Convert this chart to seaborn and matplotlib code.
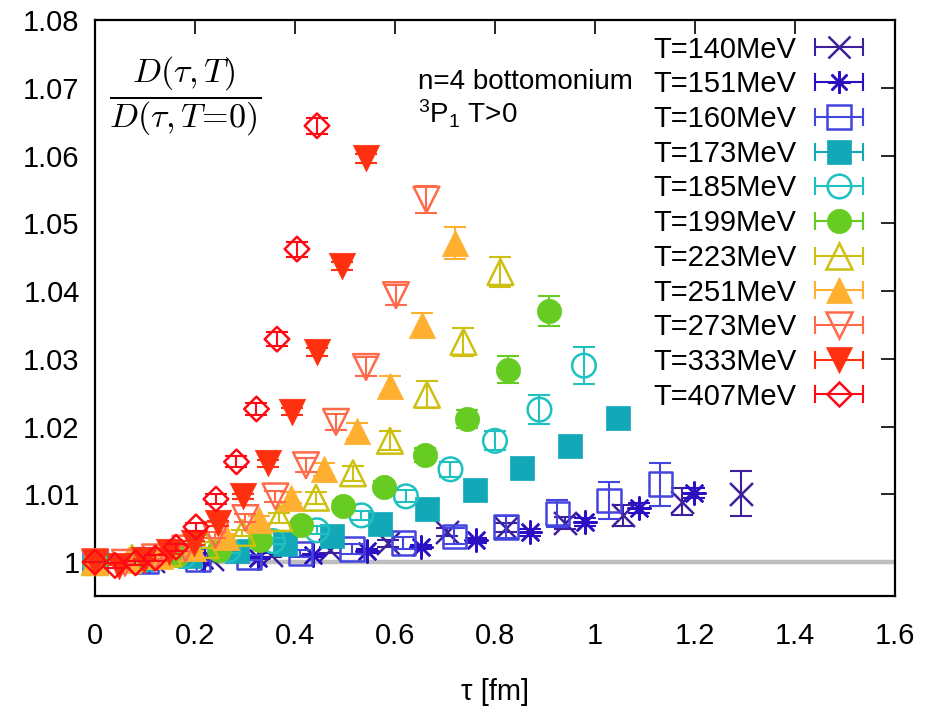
import numpy as np
import pandas as pd
import matplotlib
matplotlib.use("Agg")
import matplotlib.pyplot as plt
import seaborn as sns
from matplotlib.lines import Line2D
from matplotlib.collections import LineCollection
from matplotlib.container import ErrorbarContainer
from matplotlib.legend_handler import HandlerErrorbar
from matplotlib.ticker import FuncFormatter

# ---------------- data ----------------
labels = ["T=140MeV", "T=151MeV", "T=160MeV", "T=173MeV", "T=185MeV", "T=199MeV",
          "T=223MeV", "T=251MeV", "T=273MeV", "T=333MeV", "T=407MeV"]

tau_140 = [0, 0.117, 0.235, 0.352, 0.470, 0.587, 0.705, 0.822, 0.940, 1.057, 1.175, 1.292]
tau_151 = [0, 0.109, 0.218, 0.327, 0.436, 0.545, 0.653, 0.762, 0.871, 0.980, 1.089, 1.198]
tau_160 = [0, 0.103, 0.206, 0.308, 0.411, 0.514, 0.617, 0.719, 0.822, 0.925, 1.028, 1.131]
tau_173 = [0, 0.095, 0.190, 0.285, 0.380, 0.475, 0.570, 0.665, 0.760, 0.855, 0.951, 1.046]
tau_185 = [0, 0.089, 0.178, 0.267, 0.356, 0.444, 0.533, 0.622, 0.711, 0.800, 0.889, 0.978]
tau_199 = [0, 0.083, 0.165, 0.248, 0.331, 0.413, 0.496, 0.578, 0.661, 0.744, 0.826, 0.909]
tau_223 = [0, 0.074, 0.147, 0.221, 0.295, 0.369, 0.442, 0.516, 0.590, 0.664, 0.737, 0.811]
tau_251 = [0, 0.066, 0.131, 0.197, 0.262, 0.328, 0.393, 0.459, 0.524, 0.590, 0.655, 0.721]
tau_273 = [0, 0.060, 0.120, 0.181, 0.241, 0.301, 0.361, 0.422, 0.482, 0.542, 0.602, 0.663]
tau_333 = [0, 0.049, 0.099, 0.148, 0.198, 0.247, 0.296, 0.346, 0.395, 0.444, 0.494, 0.543]
tau_407 = [0, 0.040, 0.081, 0.121, 0.162, 0.202, 0.242, 0.283, 0.323, 0.364, 0.404, 0.444]

r_140 = [1.0, 1.0002, 1.0005, 1.0010, 1.0018, 1.0028, 1.0044, 1.0051, 1.0058, 1.0069, 1.0089, 1.0101]
r_151 = [1.0, 1.0001, 1.0003, 1.0006, 1.0010, 1.0016, 1.0022, 1.0032, 1.0044, 1.0059, 1.0080, 1.0102]
r_160 = [1.0, 1.0001, 1.0004, 1.0007, 1.0013, 1.0019, 1.0028, 1.0038, 1.0052, 1.0072, 1.0091, 1.0115]
r_173 = [1.0, 1.0004, 1.0009, 1.0016, 1.0027, 1.0038, 1.0056, 1.0078, 1.0106, 1.0139, 1.0171, 1.0213]
r_185 = [1.0, 1.0003, 1.0009, 1.0018, 1.0031, 1.0047, 1.0069, 1.0097, 1.0137, 1.0179, 1.0225, 1.0290]
r_199 = [1.0, 1.0003, 1.0010, 1.0018, 1.0032, 1.0055, 1.0083, 1.0111, 1.0158, 1.0211, 1.0284, 1.0370]
r_223 = [1.0, 1.0006, 1.0013, 1.0025, 1.0043, 1.0065, 1.0095, 1.0131, 1.0179, 1.0247, 1.0325, 1.0428]
r_251 = [1.0, 1.0003, 1.0009, 1.0021, 1.0037, 1.0062, 1.0095, 1.0137, 1.0193, 1.0260, 1.0350, 1.0471]
r_273 = [1.0, 0.9999, 1.0007, 1.0020, 1.0040, 1.0065, 1.0097, 1.0143, 1.0207, 1.0288, 1.0394, 1.0535]
r_333 = [1.0, 0.9994, 1.0003, 1.0015, 1.0028, 1.0057, 1.0097, 1.0146, 1.0222, 1.0310, 1.0437, 1.0596]
r_407 = [1.0, 0.9995, 0.9999, 1.0006, 1.0022, 1.0052, 1.0093, 1.0148, 1.0226, 1.0329, 1.0462, 1.0644]

e_140 = [0, 0.0002, 0.0002, 0.0003, 0.0004, 0.0005, 0.0006, 0.0007, 0.0009, 0.0016, 0.0020, 0.0033]
e_151 = [0, 0.0001, 0.0001, 0.0002, 0.0002, 0.0003, 0.0003, 0.0004, 0.0005, 0.0006, 0.0007, 0.0008]
e_160 = [0, 0.0002, 0.0003, 0.0004, 0.0005, 0.0007, 0.0009, 0.0012, 0.0016, 0.0020, 0.0027, 0.0032]
e_173 = [0, 0.0001, 0.0001, 0.0002, 0.0002, 0.0003, 0.0003, 0.0004, 0.0005, 0.0006, 0.0007, 0.0008]
e_185 = [0, 0.0002, 0.0003, 0.0004, 0.0005, 0.0006, 0.0007, 0.0009, 0.0011, 0.0014, 0.0021, 0.0027]
e_199 = [0, 0.0002, 0.0003, 0.0004, 0.0005, 0.0006, 0.0007, 0.0008, 0.0010, 0.0013, 0.0020, 0.0022]
e_223 = [0, 0.0002, 0.0003, 0.0004, 0.0005, 0.0007, 0.0009, 0.0011, 0.0014, 0.0020, 0.0021, 0.0022]
e_251 = [0, 0.0002, 0.0003, 0.0004, 0.0005, 0.0006, 0.0008, 0.0010, 0.0012, 0.0014, 0.0018, 0.0023]
e_273 = [0, 0.0002, 0.0003, 0.0004, 0.0005, 0.0006, 0.0008, 0.0010, 0.0012, 0.0014, 0.0015, 0.0020]
e_333 = [0, 0.0002, 0.0002, 0.0003, 0.0003, 0.0004, 0.0004, 0.0005, 0.0005, 0.0006, 0.0006, 0.0007]
e_407 = [0, 0.0003, 0.0003, 0.0004, 0.0005, 0.0006, 0.0007, 0.0008, 0.0009, 0.0010, 0.0011, 0.0012]

taus = [tau_140, tau_151, tau_160, tau_173, tau_185, tau_199, tau_223, tau_251, tau_273, tau_333, tau_407]
ratios = [r_140, r_151, r_160, r_173, r_185, r_199, r_223, r_251, r_273, r_333, r_407]
errors = [e_140, e_151, e_160, e_173, e_185, e_199, e_223, e_251, e_273, e_333, e_407]

xticks = [0, 0.2, 0.4, 0.6, 0.8, 1.0, 1.2, 1.4, 1.6]
yticks = [1.0, 1.01, 1.02, 1.03, 1.04, 1.05, 1.06, 1.07, 1.08]

# ---------------- styles ----------------
colors = ["#3e1f9c", "#2a10c2", "#4444de", "#12a8b8", "#1ec0c0", "#66cc22",
          "#cdc010", "#ffb030", "#ff6a4a", "#ff3010", "#ff0a14"]
markers = ["x", (8, 2, 0), "s", "s", "o", "o", "^", "^", "v", "v", "D"]
hollow = [False, False, True, False, True, False, True, False, True, False, True]
msizes = [16.5, 16, 17, 17.5, 17, 17.5, 18.5, 19, 18.5, 19, 12.5]

sns.set_theme(style="white")
plt.rcParams['font.family'] = ['Liberation Sans', 'DejaVu Sans']
plt.rcParams['mathtext.fontset'] = 'custom'
plt.rcParams['mathtext.rm'] = 'Liberation Sans'
plt.rcParams['mathtext.it'] = 'Liberation Sans:italic'
plt.rcParams['mathtext.bf'] = 'Liberation Sans:bold'

FS = 21
fig = plt.figure(figsize=(9.33, 7.13), dpi=100)
ax = fig.add_axes([0.1018, 0.1641, 0.8574, 0.8078])

ax.axhline(1.0, color="#bebebe", lw=3.2, zorder=1)

proxies = []
for i in range(len(labels)):
    c = colors[i]
    z = 2 + i * 0.1
    ax.errorbar(taus[i], ratios[i], yerr=errors[i], fmt="none", ecolor=c,
                elinewidth=1.5, capsize=8, capthick=1.5, zorder=z, clip_on=False)
    m = markers[i]
    s = msizes[i] ** 2
    line_art = (m == "x") or isinstance(m, tuple)
    if line_art:
        sns.scatterplot(x=taus[i], y=ratios[i], marker=m, s=s, color=c,
                        linewidth=1.8, ax=ax, zorder=z + 0.05, clip_on=False, legend=False)
    elif hollow[i]:
        sns.scatterplot(x=taus[i], y=ratios[i], marker=m, s=s, color=c,
                        facecolor="none", edgecolor=c, linewidth=1.8, ax=ax,
                        zorder=z + 0.05, clip_on=False, legend=False)
    else:
        sns.scatterplot(x=taus[i], y=ratios[i], marker=m, s=s, color=c,
                        edgecolor=c, linewidth=0.5, ax=ax,
                        zorder=z + 0.05, clip_on=False, legend=False)
    # legend proxy (gnuplot-style sample: |--marker--|)
    line = Line2D([], [], linestyle="None", marker=m, markersize=msizes[i], color=c,
                  markerfacecolor=("none" if hollow[i] else c), markeredgecolor=c,
                  markeredgewidth=(1.8 if (hollow[i] or line_art) else 0.5))
    cap = Line2D([], [], linestyle="None", marker="|", markersize=13, markeredgewidth=1.5, color=c)
    lc = LineCollection([], colors=[c], linewidths=1.5)
    cont = ErrorbarContainer((line, (cap, cap), (lc,)), has_xerr=True, has_yerr=False,
                             label=labels[i])
    proxies.append(cont)

ax.set_xlim(0, 1.6)
ax.set_ylim(0.995, 1.08)
ax.set_xticks(xticks)
ax.set_yticks(yticks)
fmt = FuncFormatter(lambda v, p: "%g" % round(v, 4))
ax.xaxis.set_major_formatter(fmt)
ax.yaxis.set_major_formatter(fmt)
ax.tick_params(axis="both", which="major", direction="in", length=10, width=1.2,
               labelsize=FS, top=True, right=True, color="black", labelcolor="black")
ax.tick_params(axis="x", pad=19)
ax.tick_params(axis="y", pad=11)
for sp in ax.spines.values():
    sp.set_color("black")
    sp.set_linewidth(1.6)

ax.set_xlabel("τ [fm]", fontsize=FS, labelpad=20, color="black")
ax.set_ylabel("")

ax.text(0.1122, 0.867, r"$\dfrac{D(\tau,T)}{D(\tau,T\!=\!0)}$", transform=ax.transAxes,
        ha="center", va="center", fontsize=24.5, math_fontfamily="cm", color="black")
ax.text(0.404, 0.880, "n=4 bottomonium", transform=ax.transAxes, ha="left",
        va="baseline", fontsize=20, color="black")
ax.text(0.404, 0.821, r"$\mathregular{^{3}}$P$\mathregular{_{1}}$ T>0", transform=ax.transAxes,
        ha="left", va="baseline", fontsize=20, color="black")

leg = ax.legend(handles=proxies, labels=labels, loc="upper right",
                bbox_to_anchor=(0.961, 0.973), frameon=False, markerfirst=False,
                fontsize=FS, handlelength=1.7, handletextpad=0.6, labelspacing=0.23,
                borderpad=0, borderaxespad=0, numpoints=1,
                handler_map={ErrorbarContainer: HandlerErrorbar(xerr_size=0.82)})
for t in leg.get_texts():
    t.set_color("black")

fig.savefig("out.png", dpi=100)
